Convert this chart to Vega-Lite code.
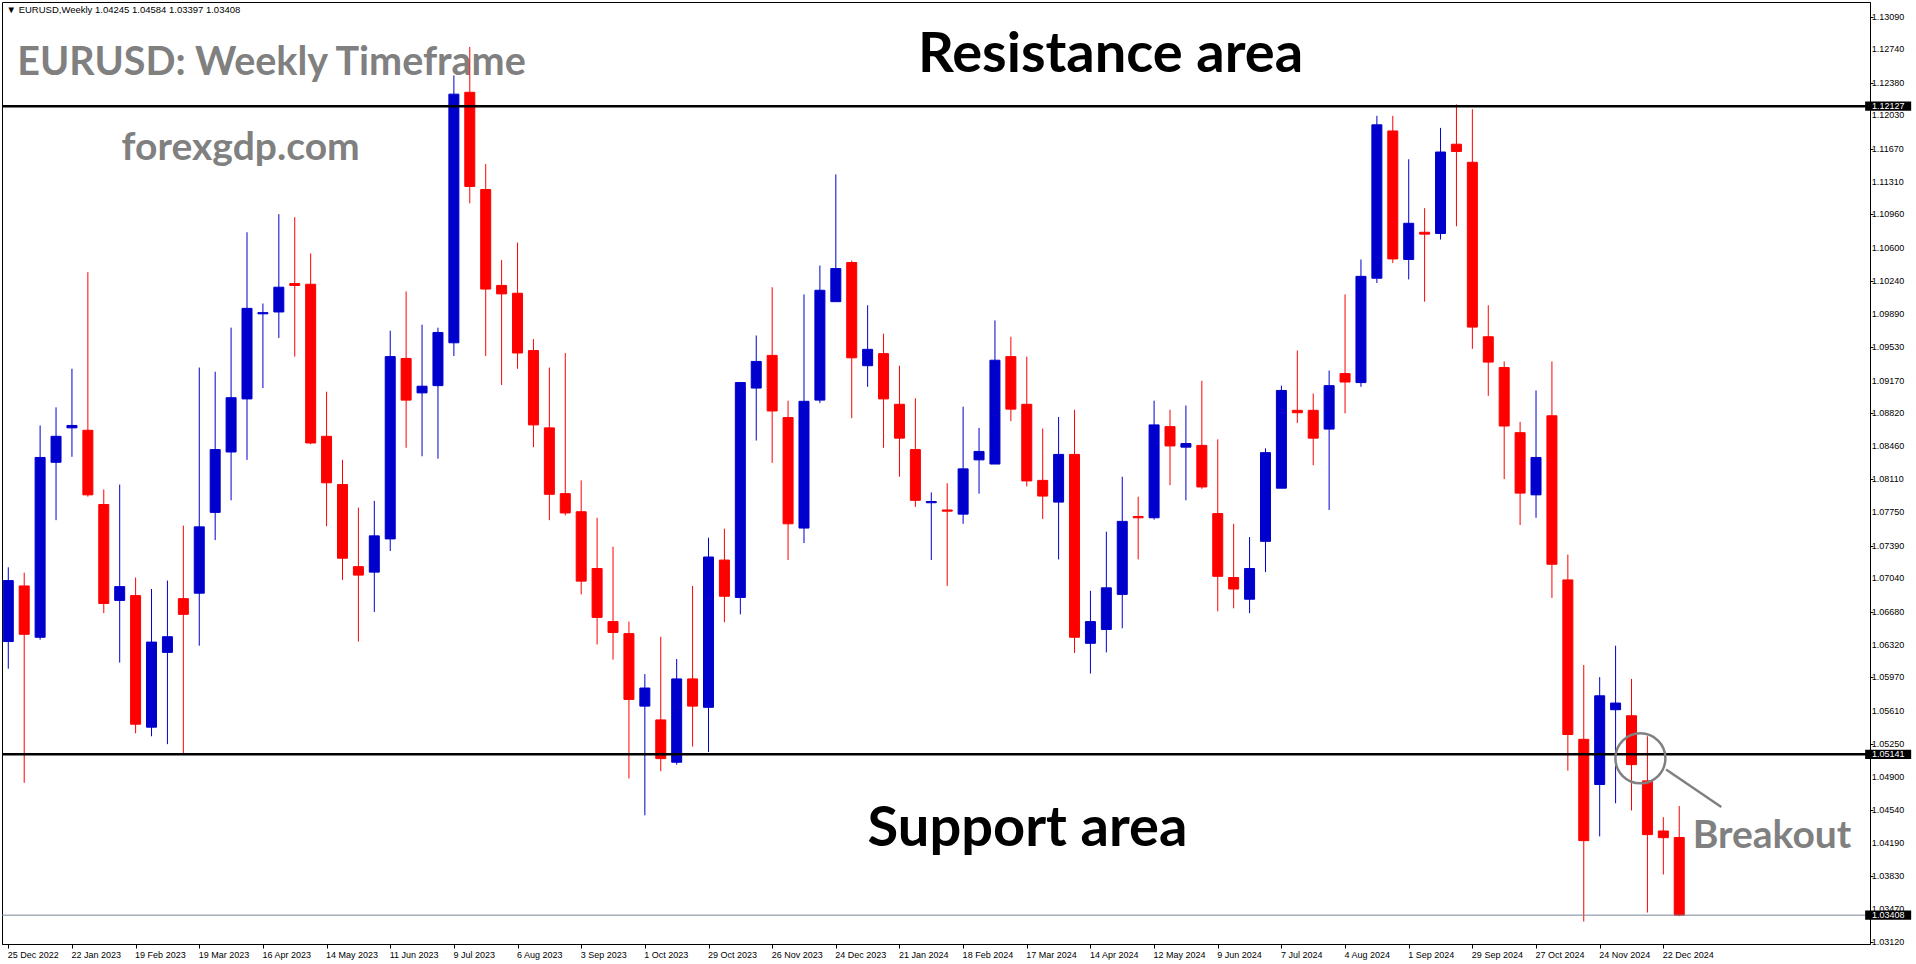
{
  "$schema": "https://vega.github.io/schema/vega-lite/v6.json",
  "width": 1868,
  "height": 942,
  "autosize": {"type": "none"},
  "padding": {"left": 2, "top": 2, "right": 46, "bottom": 20},
  "background": "white",
  "config": {
    "view": {"stroke": "black", "strokeWidth": 1},
    "font": "Liberation Sans",
    "axis": {"labelFont": "Liberation Sans", "labelFontSize": 9, "labelColor": "black", "tickColor": "black", "domainColor": "black", "domainWidth": 1, "grid": false, "labelOverlap": false, "labelBound": false, "labelFlush": false}
  },
  "datasets": {
    "candles": [
      {"d":"2022-12-25","o":1.06357,"h":1.07157,"l":1.06064,"c":1.07014},
      {"d":"2023-01-01","o":1.06956,"h":1.07099,"l":1.04835,"c":1.06435},
      {"d":"2023-01-08","o":1.06403,"h":1.08686,"l":1.06377,"c":1.08341},
      {"d":"2023-01-15","o":1.08289,"h":1.08881,"l":1.07665,"c":1.08569},
      {"d":"2023-01-22","o":1.08660,"h":1.09297,"l":1.08348,"c":1.08686},
      {"d":"2023-01-29","o":1.08634,"h":1.10338,"l":1.07918,"c":1.07938},
      {"d":"2023-02-05","o":1.07834,"h":1.07996,"l":1.06663,"c":1.06767},
      {"d":"2023-02-12","o":1.06800,"h":1.08049,"l":1.06130,"c":1.06949},
      {"d":"2023-02-19","o":1.06852,"h":1.07047,"l":1.05368,"c":1.05466},
      {"d":"2023-02-26","o":1.05434,"h":1.06923,"l":1.05336,"c":1.06351},
      {"d":"2023-03-05","o":1.06240,"h":1.07014,"l":1.05251,"c":1.06409},
      {"d":"2023-03-12","o":1.06819,"h":1.07606,"l":1.05141,"c":1.06650},
      {"d":"2023-03-19","o":1.06878,"h":1.09310,"l":1.06312,"c":1.07593},
      {"d":"2023-03-26","o":1.07749,"h":1.09265,"l":1.07450,"c":1.08426},
      {"d":"2023-04-02","o":1.08400,"h":1.09740,"l":1.07879,"c":1.08985},
      {"d":"2023-04-09","o":1.08972,"h":1.10768,"l":1.08315,"c":1.09948},
      {"d":"2023-04-16","o":1.09889,"h":1.10000,"l":1.09089,"c":1.09902},
      {"d":"2023-04-23","o":1.09909,"h":1.10963,"l":1.09629,"c":1.10176},
      {"d":"2023-04-30","o":1.10215,"h":1.10930,"l":1.09428,"c":1.10195},
      {"d":"2023-05-07","o":1.10208,"h":1.10540,"l":1.08484,"c":1.08497},
      {"d":"2023-05-14","o":1.08569,"h":1.09050,"l":1.07600,"c":1.08068},
      {"d":"2023-05-21","o":1.08049,"h":1.08315,"l":1.07021,"c":1.07255},
      {"d":"2023-05-28","o":1.07164,"h":1.07801,"l":1.06357,"c":1.07073},
      {"d":"2023-06-04","o":1.07105,"h":1.07873,"l":1.06676,"c":1.07496},
      {"d":"2023-06-11","o":1.07463,"h":1.09707,"l":1.07333,"c":1.09428},
      {"d":"2023-06-18","o":1.09408,"h":1.10130,"l":1.08445,"c":1.08959},
      {"d":"2023-06-25","o":1.09037,"h":1.09772,"l":1.08354,"c":1.09109},
      {"d":"2023-07-02","o":1.09115,"h":1.09740,"l":1.08328,"c":1.09688},
      {"d":"2023-07-09","o":1.09577,"h":1.12459,"l":1.09434,"c":1.12257},
      {"d":"2023-07-16","o":1.12277,"h":1.12765,"l":1.11080,"c":1.11262},
      {"d":"2023-07-23","o":1.11229,"h":1.11503,"l":1.09434,"c":1.10156},
      {"d":"2023-07-30","o":1.10195,"h":1.10468,"l":1.09122,"c":1.10104},
      {"d":"2023-08-06","o":1.10111,"h":1.10657,"l":1.09297,"c":1.09467},
      {"d":"2023-08-13","o":1.09493,"h":1.09616,"l":1.08452,"c":1.08692},
      {"d":"2023-08-20","o":1.08660,"h":1.09310,"l":1.07665,"c":1.07944},
      {"d":"2023-08-27","o":1.07951,"h":1.09467,"l":1.07717,"c":1.07743},
      {"d":"2023-09-03","o":1.07756,"h":1.08094,"l":1.06865,"c":1.07008},
      {"d":"2023-09-10","o":1.07144,"h":1.07691,"l":1.06325,"c":1.06617},
      {"d":"2023-09-17","o":1.06572,"h":1.07379,"l":1.06162,"c":1.06455},
      {"d":"2023-09-24","o":1.06442,"h":1.06572,"l":1.04881,"c":1.05733},
      {"d":"2023-10-01","o":1.05661,"h":1.06006,"l":1.04484,"c":1.05856},
      {"d":"2023-10-08","o":1.05512,"h":1.06409,"l":1.04959,"c":1.05095},
      {"d":"2023-10-15","o":1.05056,"h":1.06169,"l":1.05030,"c":1.05954},
      {"d":"2023-10-22","o":1.05954,"h":1.06956,"l":1.05225,"c":1.05661},
      {"d":"2023-10-29","o":1.05648,"h":1.07476,"l":1.05167,"c":1.07268},
      {"d":"2023-11-05","o":1.07235,"h":1.07574,"l":1.06565,"c":1.06845},
      {"d":"2023-11-12","o":1.06832,"h":1.09148,"l":1.06650,"c":1.09148},
      {"d":"2023-11-19","o":1.09089,"h":1.09655,"l":1.08523,"c":1.09376},
      {"d":"2023-11-26","o":1.09441,"h":1.10176,"l":1.08283,"c":1.08842},
      {"d":"2023-12-03","o":1.08771,"h":1.08953,"l":1.07235,"c":1.07626},
      {"d":"2023-12-10","o":1.07580,"h":1.10098,"l":1.07418,"c":1.08946},
      {"d":"2023-12-17","o":1.08959,"h":1.10410,"l":1.08927,"c":1.10143},
      {"d":"2023-12-24","o":1.10020,"h":1.11392,"l":1.10020,"c":1.10377},
      {"d":"2023-12-31","o":1.10442,"h":1.10462,"l":1.08764,"c":1.09415},
      {"d":"2024-01-07","o":1.09330,"h":1.09981,"l":1.09102,"c":1.09506},
      {"d":"2024-01-14","o":1.09460,"h":1.09675,"l":1.08445,"c":1.08972},
      {"d":"2024-01-21","o":1.08914,"h":1.09330,"l":1.08133,"c":1.08549},
      {"d":"2024-01-28","o":1.08426,"h":1.08979,"l":1.07808,"c":1.07879},
      {"d":"2024-02-04","o":1.07853,"h":1.07964,"l":1.07235,"c":1.07866},
      {"d":"2024-02-11","o":1.07775,"h":1.08062,"l":1.06956,"c":1.07762},
      {"d":"2024-02-18","o":1.07730,"h":1.08888,"l":1.07626,"c":1.08218},
      {"d":"2024-02-25","o":1.08315,"h":1.08660,"l":1.07951,"c":1.08406},
      {"d":"2024-03-03","o":1.08270,"h":1.09818,"l":1.08270,"c":1.09389},
      {"d":"2024-03-10","o":1.09428,"h":1.09642,"l":1.08732,"c":1.08862},
      {"d":"2024-03-17","o":1.08914,"h":1.09428,"l":1.08029,"c":1.08088},
      {"d":"2024-03-24","o":1.08094,"h":1.08653,"l":1.07678,"c":1.07925},
      {"d":"2024-03-31","o":1.07860,"h":1.08777,"l":1.07242,"c":1.08374},
      {"d":"2024-04-07","o":1.08374,"h":1.08855,"l":1.06234,"c":1.06403},
      {"d":"2024-04-14","o":1.06338,"h":1.06904,"l":1.06012,"c":1.06572},
      {"d":"2024-04-21","o":1.06487,"h":1.07541,"l":1.06240,"c":1.06936},
      {"d":"2024-04-28","o":1.06865,"h":1.08133,"l":1.06500,"c":1.07652},
      {"d":"2024-05-05","o":1.07704,"h":1.07918,"l":1.07242,"c":1.07691},
      {"d":"2024-05-12","o":1.07691,"h":1.08953,"l":1.07671,"c":1.08692},
      {"d":"2024-05-19","o":1.08673,"h":1.08855,"l":1.08042,"c":1.08465},
      {"d":"2024-05-26","o":1.08452,"h":1.08901,"l":1.07879,"c":1.08491},
      {"d":"2024-06-02","o":1.08471,"h":1.09167,"l":1.08003,"c":1.08023},
      {"d":"2024-06-09","o":1.07736,"h":1.08536,"l":1.06682,"c":1.07060},
      {"d":"2024-06-16","o":1.07047,"h":1.07626,"l":1.06715,"c":1.06923},
      {"d":"2024-06-23","o":1.06813,"h":1.07483,"l":1.06663,"c":1.07144},
      {"d":"2024-06-30","o":1.07437,"h":1.08439,"l":1.07105,"c":1.08393},
      {"d":"2024-07-07","o":1.08010,"h":1.09115,"l":1.08010,"c":1.09063},
      {"d":"2024-07-14","o":1.08849,"h":1.09493,"l":1.08712,"c":1.08823},
      {"d":"2024-07-21","o":1.08849,"h":1.09031,"l":1.08257,"c":1.08549},
      {"d":"2024-07-28","o":1.08647,"h":1.09278,"l":1.07775,"c":1.09115},
      {"d":"2024-08-04","o":1.09245,"h":1.10098,"l":1.08816,"c":1.09154},
      {"d":"2024-08-11","o":1.09148,"h":1.10475,"l":1.09102,"c":1.10293},
      {"d":"2024-08-18","o":1.10273,"h":1.12023,"l":1.10221,"c":1.11926},
      {"d":"2024-08-25","o":1.11860,"h":1.12023,"l":1.10436,"c":1.10481},
      {"d":"2024-09-01","o":1.10475,"h":1.11555,"l":1.10260,"c":1.10865},
      {"d":"2024-09-08","o":1.10768,"h":1.11028,"l":1.10020,"c":1.10748},
      {"d":"2024-09-15","o":1.10755,"h":1.11893,"l":1.10690,"c":1.11633},
      {"d":"2024-09-22","o":1.11717,"h":1.12147,"l":1.10833,"c":1.11639},
      {"d":"2024-09-29","o":1.11522,"h":1.12095,"l":1.09512,"c":1.09746},
      {"d":"2024-10-06","o":1.09642,"h":1.09981,"l":1.09005,"c":1.09369},
      {"d":"2024-10-13","o":1.09310,"h":1.09376,"l":1.08107,"c":1.08680},
      {"d":"2024-10-20","o":1.08608,"h":1.08725,"l":1.07613,"c":1.07957},
      {"d":"2024-10-27","o":1.07938,"h":1.09063,"l":1.07691,"c":1.08341},
      {"d":"2024-11-03","o":1.08790,"h":1.09376,"l":1.06826,"c":1.07190},
      {"d":"2024-11-10","o":1.07021,"h":1.07294,"l":1.04965,"c":1.05355},
      {"d":"2024-11-17","o":1.05303,"h":1.06104,"l":1.03339,"c":1.04211},
      {"d":"2024-11-24","o":1.04816,"h":1.05973,"l":1.04256,"c":1.05772},
      {"d":"2024-12-01","o":1.05622,"h":1.06312,"l":1.04614,"c":1.05694},
      {"d":"2024-12-08","o":1.05557,"h":1.05954,"l":1.04536,"c":1.05030},
      {"d":"2024-12-15","o":1.04855,"h":1.05336,"l":1.03436,"c":1.04276},
      {"d":"2024-12-22","o":1.04315,"h":1.04464,"l":1.03846,"c":1.04243},
      {"d":"2024-12-29","o":1.04245,"h":1.04584,"l":1.03397,"c":1.03408}
    ],
    "priceTicks": [
      {"d":"2025-03-23T17:00:00Z","p":1.1309},{"d":"2025-03-23T17:00:00Z","p":1.1274},{"d":"2025-03-23T17:00:00Z","p":1.1238},{"d":"2025-03-23T17:00:00Z","p":1.1203},{"d":"2025-03-23T17:00:00Z","p":1.1167},{"d":"2025-03-23T17:00:00Z","p":1.1131},{"d":"2025-03-23T17:00:00Z","p":1.1096},{"d":"2025-03-23T17:00:00Z","p":1.106},{"d":"2025-03-23T17:00:00Z","p":1.1024},{"d":"2025-03-23T17:00:00Z","p":1.0989},{"d":"2025-03-23T17:00:00Z","p":1.0953},{"d":"2025-03-23T17:00:00Z","p":1.0917},{"d":"2025-03-23T17:00:00Z","p":1.0882},{"d":"2025-03-23T17:00:00Z","p":1.0846},{"d":"2025-03-23T17:00:00Z","p":1.0811},{"d":"2025-03-23T17:00:00Z","p":1.0775},{"d":"2025-03-23T17:00:00Z","p":1.0739},{"d":"2025-03-23T17:00:00Z","p":1.0704},{"d":"2025-03-23T17:00:00Z","p":1.0668},{"d":"2025-03-23T17:00:00Z","p":1.0632},{"d":"2025-03-23T17:00:00Z","p":1.0597},{"d":"2025-03-23T17:00:00Z","p":1.0561},{"d":"2025-03-23T17:00:00Z","p":1.0525},{"d":"2025-03-23T17:00:00Z","p":1.049},{"d":"2025-03-23T17:00:00Z","p":1.0454},{"d":"2025-03-23T17:00:00Z","p":1.0419},{"d":"2025-03-23T17:00:00Z","p":1.0383},{"d":"2025-03-23T17:00:00Z","p":1.0347},{"d":"2025-03-23T17:00:00Z","p":1.0312}
    ]
  },
  "layer": [
    {
      "data": {"values": [{"d":"2023-04-19T19:00:00Z","p":1.12464,"t":"EURUSD: Weekly Timeframe"}]},
      "mark": {"type":"text","font":"Lato","fontWeight":"bold","fontSize":39.5,"color":"#808080","align":"center","baseline":"alphabetic"},
      "encoding": {
        "x": {"field":"d","type":"temporal","title":null,"scale":{"type":"utc","domain":[{"year":2022,"month":12,"date":24,"hours":10,"minutes":20,"utc":true},{"year":2025,"month":3,"date":20,"hours":17,"utc":true}],"nice":false},
          "axis":{"values":[{"year":2022,"month":12,"date":25,"utc":true},{"year":2023,"month":1,"date":22,"utc":true},{"year":2023,"month":2,"date":19,"utc":true},{"year":2023,"month":3,"date":19,"utc":true},{"year":2023,"month":4,"date":16,"utc":true},{"year":2023,"month":5,"date":14,"utc":true},{"year":2023,"month":6,"date":11,"utc":true},{"year":2023,"month":7,"date":9,"utc":true},{"year":2023,"month":8,"date":6,"utc":true},{"year":2023,"month":9,"date":3,"utc":true},{"year":2023,"month":10,"date":1,"utc":true},{"year":2023,"month":10,"date":29,"utc":true},{"year":2023,"month":11,"date":26,"utc":true},{"year":2023,"month":12,"date":24,"utc":true},{"year":2024,"month":1,"date":21,"utc":true},{"year":2024,"month":2,"date":18,"utc":true},{"year":2024,"month":3,"date":17,"utc":true},{"year":2024,"month":4,"date":14,"utc":true},{"year":2024,"month":5,"date":12,"utc":true},{"year":2024,"month":6,"date":9,"utc":true},{"year":2024,"month":7,"date":7,"utc":true},{"year":2024,"month":8,"date":4,"utc":true},{"year":2024,"month":9,"date":1,"utc":true},{"year":2024,"month":9,"date":29,"utc":true},{"year":2024,"month":10,"date":27,"utc":true},{"year":2024,"month":11,"date":24,"utc":true},{"year":2024,"month":12,"date":22,"utc":true}],
            "format":"%-d %b %Y","labelAlign":"left","labelBaseline":"top","labelOffset":-1,"labelPadding":2,"tickSize":4,"title":null,"labelOverlap":false,"labelBound":false,"labelFlush":false}},
        "y": {"field":"p","type":"quantitative","title":null,"scale":{"domain":[1.03097,1.1325],"zero":false,"nice":false},
          "axis":{"orient":"right","values":[1.1309,1.1274,1.1238,1.1203,1.1167,1.1131,1.1096,1.106,1.1024,1.0989,1.0953,1.0917,1.0882,1.0846,1.0811,1.0775,1.0739,1.0704,1.0668,1.0632,1.0597,1.0561,1.0525,1.049,1.0454,1.0419,1.0383,1.0347,1.0312],"labels":false,"tickSize":3,"title":null}},
        "text": {"field":"t"}
      }
    },
    {
      "data": {"values": [{"d":"2023-04-06T05:00:00Z","p":1.11547,"t":"forexgdp.com"},{"d":"2025-02-07T19:00:00Z","p":1.04131,"t":"Breakout"}]},
      "mark": {"type":"text","font":"Lato","fontWeight":"bold","fontSize":39,"color":"#808080","align":"center","baseline":"alphabetic"},
      "encoding": {
        "x": {"field":"d","type":"temporal","title":null},
        "y": {"field":"p","type":"quantitative","title":null},
        "text": {"field":"t"}
      }
    },
    {
      "data": {"values": [{"d":"2024-04-22T21:00:00Z","p":1.12491,"t":"Resistance area"},{"d":"2024-03-17T07:00:00Z","p":1.04153,"t":"Support area"}]},
      "mark": {"type":"text","font":"Lato","fontWeight":"bold","fontSize":56,"color":"black","align":"center","baseline":"alphabetic"},
      "encoding": {
        "x": {"field":"d","type":"temporal","title":null},
        "y": {"field":"p","type":"quantitative","title":null},
        "text": {"field":"t"}
      }
    },
    {
      "data": {"name": "candles"},
      "mark": {"type":"rule","strokeWidth":1,"clip":true},
      "encoding": {
        "x": {"field":"d","type":"temporal","title":null},
        "y": {"field":"l","type":"quantitative","title":null},
        "y2": {"field":"h"},
        "color": {"condition":{"test":"datum.c < datum.o","value":"#FF0000"},"value":"#0000CD"}
      }
    },
    {
      "data": {"name": "candles"},
      "mark": {"type":"bar","size":10,"strokeWidth":1,"clip":true},
      "encoding": {
        "x": {"field":"d","type":"temporal","title":null},
        "y": {"field":"o","type":"quantitative","title":null},
        "y2": {"field":"c"},
        "color": {"condition":{"test":"datum.c < datum.o","value":"#FF0000"},"value":"#0000CD"},
        "stroke": {"condition":{"test":"datum.c < datum.o","value":"#FF0000"},"value":"#0000CD"}
      }
    },
    {
      "data": {"values": [{"p":1.12127},{"p":1.05141}]},
      "mark": {"type":"rule","color":"black","strokeWidth":2.5},
      "encoding": {
        "y": {"field":"p","type":"quantitative","title":null}
      }
    },
    {
      "data": {"values": [{"p":1.03408}]},
      "mark": {"type":"rule","color":"#778899","strokeWidth":1},
      "encoding": {
        "y": {"field":"p","type":"quantitative","title":null}
      }
    },
    {
      "data": {"values": [{"d":"2024-12-11T22:00:00Z","p":1.05098}]},
      "mark": {"type":"point","shape":"circle","size":2500,"filled":false,"stroke":"#808080","strokeWidth":2.5,"opacity":1},
      "encoding": {
        "x": {"field":"d","type":"temporal","title":null},
        "y": {"field":"p","type":"quantitative","title":null}
      }
    },
    {
      "data": {"values": [{"d":"2024-12-23T05:00:00Z","p":1.04978},{"d":"2025-01-16T12:00:00Z","p":1.04574}]},
      "mark": {"type":"line","color":"#808080","strokeWidth":2.5},
      "encoding": {
        "x": {"field":"d","type":"temporal","title":null},
        "y": {"field":"p","type":"quantitative","title":null}
      }
    },
    {
      "data": {"values": [{"d":"2022-12-24T06:00:00Z","p":1.13132,"t":"▼  EURUSD,Weekly  1.04245 1.04584 1.03397 1.03408"}]},
      "mark": {"type":"text","font":"Liberation Sans","fontSize":9.5,"color":"black","align":"left","baseline":"alphabetic"},
      "encoding": {
        "x": {"field":"d","type":"temporal","title":null},
        "y": {"field":"p","type":"quantitative","title":null},
        "text": {"field":"t"}
      }
    },
    {
      "data": {"name": "priceTicks"},
      "mark": {"type":"text","font":"Liberation Sans","fontSize":9,"color":"black","align":"left","baseline":"middle","clip":false},
      "encoding": {
        "x": {"field":"d","type":"temporal","title":null},
        "y": {"field":"p","type":"quantitative","title":null},
        "text": {"field":"p","format":".5f"}
      }
    },
    {
      "data": {"values": [{"d":"2025-03-30T21:36:00Z","p":1.12127},{"d":"2025-03-30T21:36:00Z","p":1.05141},{"d":"2025-03-30T21:36:00Z","p":1.03408}]},
      "mark": {"type":"point","shape":"M-1,-0.2H1V0.2H-1Z","size":2116,"filled":true,"color":"black","opacity":1,"clip":false},
      "encoding": {
        "x": {"field":"d","type":"temporal","title":null},
        "y": {"field":"p","type":"quantitative","title":null}
      }
    },
    {
      "data": {"values": [{"d":"2025-03-30T21:36:00Z","p":1.12127},{"d":"2025-03-30T21:36:00Z","p":1.05141},{"d":"2025-03-30T21:36:00Z","p":1.03408}]},
      "mark": {"type":"text","font":"Liberation Sans","fontSize":9,"color":"white","align":"center","baseline":"middle","clip":false},
      "encoding": {
        "x": {"field":"d","type":"temporal","title":null},
        "y": {"field":"p","type":"quantitative","title":null},
        "text": {"field":"p","format":".5f"}
      }
    }
  ]
}
